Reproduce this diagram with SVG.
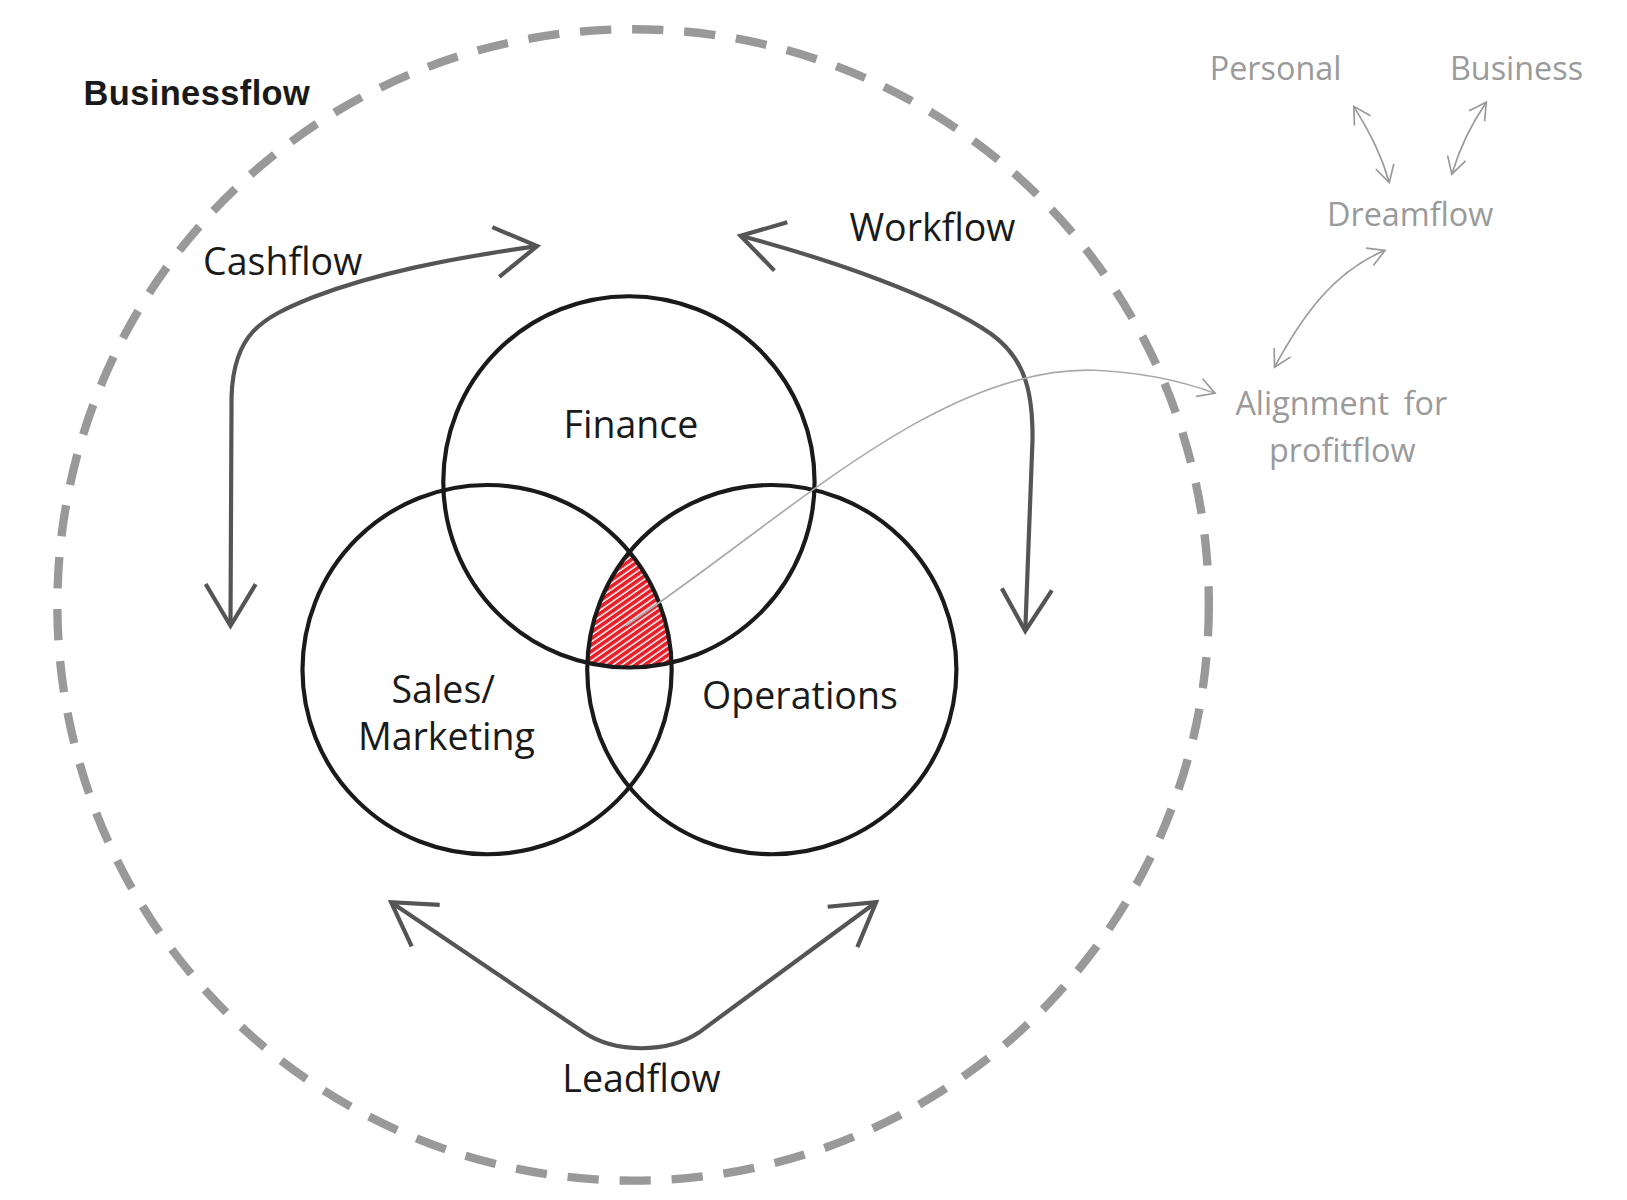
<svg xmlns="http://www.w3.org/2000/svg" width="1627" height="1200" viewBox="0 0 1627 1200">
<style>
.c{fill:none;stroke:#1a1a1a;stroke-width:4}
.t{font-family:"Open Sans","Noto Sans",sans-serif;fill:#1a1a1a;font-size:36px;text-anchor:middle}
.g{font-family:"Open Sans","Noto Sans",sans-serif;fill:#9a9a9a;font-size:31px;text-anchor:middle}
.big{fill:none;stroke:#555;stroke-width:4;marker-start:url(#mb);marker-end:url(#mb)}
.sm{fill:none;stroke:#999;stroke-width:1.6;marker-start:url(#ms);marker-end:url(#ms)}
</style>
<defs>
<marker id="mb" markerUnits="userSpaceOnUse" viewBox="-50 -30 60 60" markerWidth="60" markerHeight="60" refX="0" refY="0" orient="auto-start-reverse"><path d="M-40,-24 L0,0 L-40,24" fill="none" stroke="#555" stroke-width="4"/></marker>
<marker id="ms" markerUnits="userSpaceOnUse" viewBox="-20 -12 24 24" markerWidth="24" markerHeight="24" refX="0" refY="0" orient="auto-start-reverse"><path d="M-16,-9 L0,0 L-16,9" fill="none" stroke="#999" stroke-width="1.6"/></marker>
<pattern id="hatch" patternUnits="userSpaceOnUse" width="5" height="5" patternTransform="rotate(-35)"><rect width="5" height="5" fill="#fff"/><rect width="5" height="3.6" fill="#e8202a"/></pattern>
<clipPath id="cf"><circle cx="603" cy="462" r="178"/></clipPath>
<clipPath id="cs"><circle cx="467" cy="642" r="177"/></clipPath>
</defs>
<g transform="scale(1.043)">
<g id="boundary"><ellipse cx="607" cy="580" rx="552" ry="552" fill="none" stroke="#999" stroke-width="8" stroke-dasharray="30 20"/></g>
<g id="core"><g clip-path="url(#cf)"><g clip-path="url(#cs)"><circle cx="740" cy="642" r="177" fill="url(#hatch)"/></g></g></g>
<g id="finance"><circle class="c" cx="603" cy="462" r="178"/><text class="t" x="605" y="420">Finance</text></g>
<g id="sales"><circle class="c" cx="467" cy="642" r="177"/><text class="t" x="425" y="674">Sales/</text><text class="t" x="428" y="719">Marketing</text></g>
<g id="operations"><circle class="c" cx="740" cy="642" r="177"/><text class="t" x="767" y="680">Operations</text></g>
<g id="labels">
<text x="80" y="101" style="font-family:'Liberation Sans',Arial,sans-serif;font-weight:bold;font-size:33px;letter-spacing:0.4px;fill:#1a1a1a">Businessflow</text>
<text class="t" x="271" y="264">Cashflow</text>
<text class="t" x="894" y="231">Workflow</text>
<text class="t" x="615" y="1047">Leadflow</text>
<text class="g" x="1223" y="77">Personal</text>
<text class="g" x="1454" y="77">Business</text>
<text class="g" x="1352" y="217">Dreamflow</text>
<text class="g" x="1286" y="398" style="word-spacing:6px">Alignment for</text>
<text class="g" x="1287" y="443">profitflow</text>
</g>
<g id="connectors">
<path class="big" d="M221,600 L222,380 C224,320 250,305 300,285 C360,262 430,248 515,236"/>
<path class="big" d="M710,226 C800,250 900,285 950,320 C985,345 990,380 990,420 L983,605"/>
<path class="big" d="M375,865 L560,990 C590,1010 640,1010 670,990 L840,865"/>
<path d="M600,600 C750,500 900,350 1050,355 C1100,357 1140,368 1165,377" fill="none" stroke="#aaa" stroke-width="1.6" marker-end="url(#ms)"/>
<path class="sm" d="M1298,102 C1315,130 1325,150 1332,175"/>
<path class="sm" d="M1425,98 C1410,120 1400,140 1392,167"/>
<path class="sm" d="M1328,240 C1280,260 1250,300 1222,352"/>
</g>
</g>
</svg>
